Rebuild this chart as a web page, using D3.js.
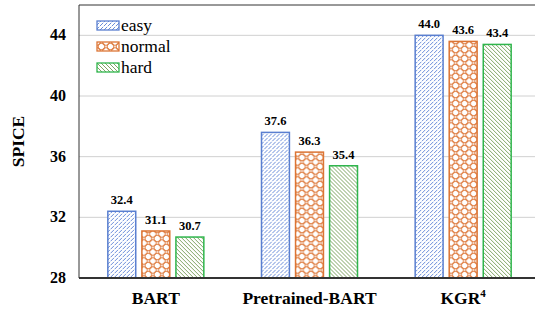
<!DOCTYPE html>
<html>
<head>
<meta charset="utf-8">
<script src="https://cdn.jsdelivr.net/npm/d3@7"></script>
<style>
  body { margin: 0; background: #fff; }
</style>
</head>
<body>
<svg id="chart" width="535" height="309"></svg>
<script>
var groups = ["BART", "Pretrained-BART", "KGR"]
var levels = ["easy", "normal", "hard"]
var easyValues = [32.4, 37.6, 44.0]
var normalValues = [31.1, 36.3, 43.6]
var hardValues = [30.7, 35.4, 43.4]
var yTicks = [28, 32, 36, 40, 44]

var svg = d3.select("#chart")
    .attr("font-family", "'Liberation Serif', 'Times New Roman', serif")
var plotLeft = 79, plotRight = 540, plotTop = 5, plotBottom = 278

var seriesValues = { easy: easyValues, normal: normalValues, hard: hardValues }
var borderColor = { easy: "#5a7fd0", normal: "#dc7535", hard: "#2fb54c" }

var x0 = d3.scaleBand().domain(groups).range([plotLeft, plotRight])
var innerWidth = 96
var x1 = d3.scaleBand().domain(levels).range([0, innerWidth]).paddingInner(0.18)
var y = d3.scaleLinear().domain([28, 46]).range([plotBottom, plotTop])

// patterns
var defs = svg.append("defs")

var pEasy = defs.append("pattern").attr("id", "p-easy")
    .attr("patternUnits", "userSpaceOnUse").attr("width", 4).attr("height", 4)
pEasy.append("rect").attr("width", 4).attr("height", 4).attr("fill", "#fff")
pEasy.append("path").attr("d", "M-1,1 L1,-1 M0,4 L4,0 M3,5 L5,3")
    .attr("stroke", "#6a8cd9").attr("stroke-width", 1).attr("stroke-dasharray", "3,1")

var pNormal = defs.append("pattern").attr("id", "p-normal")
    .attr("patternUnits", "userSpaceOnUse").attr("width", 9).attr("height", 9)
pNormal.append("rect").attr("width", 9).attr("height", 9).attr("fill", "#fff")
pNormal.selectAll("circle")
    .data([[0, 0], [9, 0], [0, 9], [9, 9], [4.5, 4.5]])
    .enter().append("circle")
    .attr("cx", d => d[0]).attr("cy", d => d[1]).attr("r", 3.3)
    .attr("fill", "none").attr("stroke", "#e0834a").attr("stroke-width", 1.1)

var pHard = defs.append("pattern").attr("id", "p-hard")
    .attr("patternUnits", "userSpaceOnUse").attr("width", 4).attr("height", 4)
pHard.append("rect").attr("width", 4).attr("height", 4).attr("fill", "#fff")
pHard.append("path").attr("d", "M-1,3 L1,5 M0,0 L4,4 M3,-1 L5,1")
    .attr("stroke", "#729a52").attr("stroke-width", 0.9)

// gridlines
svg.append("g")
    .selectAll("line")
    .data(yTicks.slice(1))
    .enter().append("line")
    .attr("x1", plotLeft).attr("x2", 535)
    .attr("y1", d => y(d)).attr("y2", d => y(d))
    .attr("stroke", "#d0d0d0").attr("stroke-width", 1)

// y tick labels
svg.append("g")
    .selectAll("text")
    .data(yTicks)
    .enter().append("text")
    .attr("x", 66)
    .attr("y", d => y(d) + 5)
    .attr("text-anchor", "end")
    .attr("font-weight", "bold")
    .attr("font-size", 16)
    .text(d => d)

svg.append("text")
    .attr("transform", "translate(24," + (plotTop + plotBottom) / 2 + ") rotate(-90)")
    .attr("text-anchor", "middle")
    .attr("font-weight", "bold")
    .attr("font-size", 17.5)
    .text("SPICE")

// bars
var groupG = svg.append("g")
    .selectAll("g")
    .data(groups)
    .enter().append("g")
    .attr("transform", d => "translate(" + (x0(d) + (x0.bandwidth() - innerWidth) / 2) + ",0)")

groupG.selectAll("rect")
    .data((g, gi) => levels.map(l => ({ level: l, value: seriesValues[l][gi] })))
    .enter().append("rect")
    .attr("x", d => x1(d.level))
    .attr("y", d => y(d.value))
    .attr("width", x1.bandwidth())
    .attr("height", d => plotBottom - y(d.value))
    .attr("fill", d => "url(#p-" + d.level + ")")
    .attr("stroke", d => borderColor[d.level])
    .attr("stroke-width", 1.5)

groupG.selectAll("text.val")
    .data((g, gi) => levels.map(l => ({ level: l, value: seriesValues[l][gi] })))
    .enter().append("text")
    .attr("class", "val")
    .attr("x", d => x1(d.level) + x1.bandwidth() / 2)
    .attr("y", d => y(d.value) - 7)
    .attr("text-anchor", "middle")
    .attr("font-weight", "bold")
    .attr("font-size", 12.5)
    .text(d => d.value.toFixed(1))

// axes frame
svg.append("line").attr("x1", plotLeft).attr("x2", 535).attr("y1", plotTop).attr("y2", plotTop)
    .attr("stroke", "#333").attr("stroke-width", 1)
svg.append("line").attr("x1", plotLeft).attr("x2", plotLeft).attr("y1", plotTop).attr("y2", plotBottom)
    .attr("stroke", "#333").attr("stroke-width", 1)
svg.append("line").attr("x1", plotLeft).attr("x2", 535).attr("y1", plotBottom).attr("y2", plotBottom)
    .attr("stroke", "#333").attr("stroke-width", 2)

// x labels
var xLabels = svg.append("g")
    .selectAll("text")
    .data(groups)
    .enter().append("text")
    .attr("x", d => x0(d) + x0.bandwidth() / 2)
    .attr("y", 304)
    .attr("text-anchor", "middle")
    .attr("font-weight", "bold")
    .attr("font-size", 17.5)
    .text(d => d)
xLabels.filter(d => d === "KGR")
    .append("tspan")
    .attr("dy", -7)
    .attr("font-size", 11)
    .text("4")

// legend
var legend = svg.append("g")
    .selectAll("g")
    .data(levels)
    .enter().append("g")
    .attr("transform", (d, i) => "translate(97," + (21 + i * 21) + ")")

legend.append("rect")
    .attr("width", 22).attr("height", 9)
    .attr("fill", d => "url(#p-" + d + ")")
    .attr("stroke", d => borderColor[d])
    .attr("stroke-width", 1.3)

legend.append("text")
    .attr("x", 24)
    .attr("y", 10)
    .attr("font-size", 17.5)
    .text(d => d)
</script>
</body>
</html>
